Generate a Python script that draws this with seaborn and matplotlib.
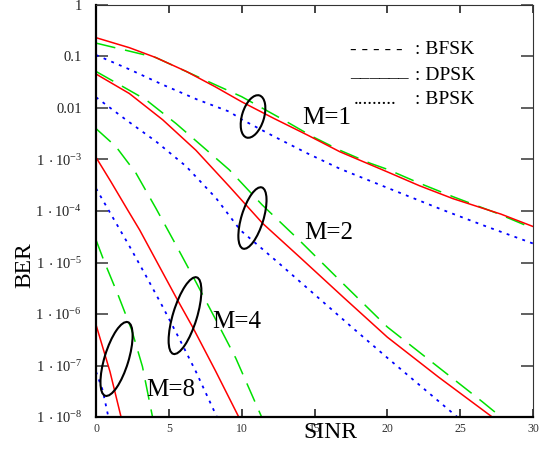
import matplotlib
matplotlib.use("Agg")
import matplotlib.pyplot as plt
import matplotlib.transforms as mtransforms
from matplotlib.patches import Ellipse
import pandas as pd
import seaborn as sns

sns.set_theme(style="white")
plt.rcParams["font.family"] = ["Liberation Serif", "DejaVu Serif"]
plt.rcParams["mathtext.fontset"] = "custom"
plt.rcParams["mathtext.rm"] = "Liberation Serif"
plt.rcParams["mathtext.it"] = "Liberation Serif:italic"
plt.rcParams["mathtext.bf"] = "Liberation Serif:bold"

# ---- BER curves (SINR in dB) ----
dpsk_m1_x = [0, 2.3, 4.1, 6.2, 8.2, 10, 12.2, 14.5, 16.75, 20, 22.2, 24.5, 27.8, 30]
dpsk_m1_ber = [0.232, 0.148, 0.0955, 0.0513, 0.0257, 0.0132, 6.3e-3, 3.0e-3, 1.41e-3,
               5.75e-4, 3.1e-4, 1.74e-4, 8.7e-5, 5.0e-5]
bfsk_m1_x = [0, 2.5, 4.1, 5.95, 8.2, 10, 12.86, 14.9, 16.75, 18.8, 20, 22.2, 24.5, 27.5, 30]
bfsk_m1_ber = [0.182, 0.123, 0.0955, 0.055, 0.0282, 0.0166, 5.9e-3, 2.75e-3, 1.51e-3,
               8.5e-4, 6.45e-4, 3.47e-4, 1.9e-4, 9.1e-5, 4.6e-5]
bpsk_m1_x = [0, 2.3, 4.6, 6.9, 9.15, 10, 12.2, 14.5, 16.75, 20, 23.8, 26.8, 30]
bpsk_m1_ber = [0.107, 0.0562, 0.0282, 0.0148, 8.5e-3, 6.0e-3, 2.82e-3, 1.32e-3, 6.6e-4,
               2.82e-4, 1.05e-4, 5.0e-5, 2.34e-5]

dpsk_m2_x = [0, 2.29, 4.58, 6.86, 9.15, 11.44, 14, 17, 20, 23.5, 27.2]
dpsk_m2_ber = [0.0457, 0.0191, 5.9e-3, 1.51e-3, 3.0e-4, 5.75e-5, 1.26e-5, 2.09e-6,
               3.55e-7, 6.0e-8, 1.0e-8]
bfsk_m2_x = [0, 2.06, 3.43, 5.49, 7.32, 9.15, 11.4, 14, 17, 20, 23.5, 26.5, 27.8]
bfsk_m2_ber = [0.0513, 0.024, 0.01445, 5.0e-3, 1.78e-3, 6.3e-4, 1.32e-4, 2.63e-5,
               3.8e-6, 5.6e-7, 9.3e-8, 2.0e-8, 1.0e-8]
bpsk_m2_x = [0, 2.06, 4.12, 6.18, 8.24, 9.9, 12.5, 15, 17.5, 20, 22.5, 24.8]
bpsk_m2_ber = [0.0162, 5.9e-3, 2.24e-3, 7.4e-4, 1.78e-4, 4.27e-5, 1.0e-5, 2.4e-6,
               5.75e-7, 1.41e-7, 3.55e-8, 1.0e-8]

dpsk_m4_x = [0, 1.0, 2.17, 3.0, 4.3, 5.6, 6.63, 8.2, 9.8]
dpsk_m4_ber = [1.1e-3, 3.8e-4, 1.05e-4, 4.27e-5, 8.9e-6, 1.86e-6, 5.6e-7, 7.9e-8, 1.0e-8]
bfsk_m4_x = [0, 1.37, 2.75, 4.12, 5.49, 6.86, 8.24, 9.6, 11.37]
bfsk_m4_ber = [3.98e-3, 1.78e-3, 5.4e-4, 1.12e-4, 2.19e-5, 4.17e-6, 7.6e-7, 1.38e-7, 1.0e-8]
bpsk_m4_x = [0, 1.14, 2.29, 3.43, 4.58, 5.72, 6.86, 8.3]
bpsk_m4_ber = [2.75e-4, 7.6e-5, 2.09e-5, 5.5e-6, 1.38e-6, 3.3e-7, 7.6e-8, 1.0e-8]

dpsk_m8_x = [0, 0.96, 1.72]
dpsk_m8_ber = [6.2e-7, 7.6e-8, 1.0e-8]
bfsk_m8_x = [0, 0.55, 1.53, 2.45, 3.19, 3.88]
bfsk_m8_ber = [2.75e-5, 1.07e-5, 2.29e-6, 4.9e-7, 9.5e-8, 1.0e-8]
bpsk_m8_x = [0, 0.46, 0.85]
bpsk_m8_ber = [7.6e-8, 3.3e-8, 1.0e-8]

y_tick_values = [1, 0.1, 0.01, 1e-3, 1e-4, 1e-5, 1e-6, 1e-7, 1e-8]
y_tick_labels = ["1", "0.1", "0.01"] + [
    r"$\mathregular{1\ \cdot 10^{-%d}}$" % k for k in range(3, 9)]
x_tick_values = [0, 5, 10, 15, 20, 25, 30]

curves = [
    ("BFSK", 1, bfsk_m1_x, bfsk_m1_ber), ("DPSK", 1, dpsk_m1_x, dpsk_m1_ber),
    ("BPSK", 1, bpsk_m1_x, bpsk_m1_ber),
    ("BFSK", 2, bfsk_m2_x, bfsk_m2_ber), ("DPSK", 2, dpsk_m2_x, dpsk_m2_ber),
    ("BPSK", 2, bpsk_m2_x, bpsk_m2_ber),
    ("BFSK", 4, bfsk_m4_x, bfsk_m4_ber), ("DPSK", 4, dpsk_m4_x, dpsk_m4_ber),
    ("BPSK", 4, bpsk_m4_x, bpsk_m4_ber),
    ("BFSK", 8, bfsk_m8_x, bfsk_m8_ber), ("DPSK", 8, dpsk_m8_x, dpsk_m8_ber),
    ("BPSK", 8, bpsk_m8_x, bpsk_m8_ber),
]
rows = []
for mod, m, xs, bers in curves:
    for x, b in zip(xs, bers):
        rows.append({"mod": mod, "M": m, "sinr": x, "ber": b})
df = pd.DataFrame(rows)

styles = {
    "BFSK": dict(color="#00e000", lw=1.1, ls=(0, (13, 6.5))),
    "DPSK": dict(color="#ff0000", lw=1.1, ls="-"),
    "BPSK": dict(color="#0000ff", lw=1.3, ls=(0, (1.6, 3.0))),
}

W, H = 539, 451
fig = plt.figure(figsize=(W / 100, H / 100), dpi=100)
L, R, T, B = 96, 533, 5, 417
ax = fig.add_axes([L / W, 1 - B / H, (R - L) / W, (B - T) / H])
ax.set_yscale("log")

for (mod, m), sub in df.groupby(["mod", "M"], sort=False):
    st = styles[mod]
    sns.lineplot(data=sub, x="sinr", y="ber", color=st["color"], linewidth=st["lw"],
                 estimator=None, sort=False, ax=ax, legend=False)
    ax.lines[-1].set_linestyle(st["ls"])

# diversity-order ellipses, sized in pixels around a data-space centre
def ring(xc, yc, a, b, tilt):
    tr = mtransforms.IdentityTransform() + mtransforms.ScaledTranslation(xc, yc, ax.transData)
    e = Ellipse((0, 0), width=2 * b, height=2 * a, angle=-tilt, transform=tr,
                fill=False, edgecolor="black", linewidth=1.5, clip_on=False, zorder=5)
    ax.add_artist(e)

ring(10.78, 6.84e-3, 22, 11, 17)
ring(10.74, 7.3e-5, 32, 11, 17)
ring(6.11, 9.3e-7, 40, 12, 17)
ring(1.41, 1.34e-7, 38.5, 12, 17)

ax.set_xlim(0, 30)
ax.set_ylim(1e-8, 1)
ax.set_xticks(x_tick_values)
ax.set_xticklabels([str(v) for v in x_tick_values], fontsize=8.5)
ax.set_yticks(y_tick_values)
ax.set_yticklabels(y_tick_labels, fontsize=10.5)
ax.minorticks_off()
ax.set_xlabel("")
ax.set_ylabel("")
ax.tick_params(axis="y", which="major", direction="in", left=True, right=True,
               length=8.5, width=1.2, color="#444444", pad=10, labelcolor="#222222")
ax.tick_params(axis="x", which="major", direction="in", bottom=True, top=True,
               length=6, width=1.2, color="#222222", pad=4, labelcolor="#333333")

for side in ("left", "bottom"):
    ax.spines[side].set_linewidth(1.6)
    ax.spines[side].set_color("black")
for side in ("top", "right"):
    ax.spines[side].set_linewidth(0.8)
    ax.spines[side].set_color("#333333")

def ptext(px, py, s, size, ha="center", va="center", **kw):
    fig.text(px / W, 1 - py / H, s, fontsize=size, ha=ha, va=va, color="black", **kw)

ptext(330, 432, "SINR", 17)
ptext(25, 265, "BER", 17, rotation=90)

ptext(350, 49, "- - - - -", 14, ha="left")
ptext(415, 49, ": BFSK", 14, ha="left")
ptext(350, 77, "______", 14, ha="left", va="baseline")
ptext(415, 76, ": DPSK", 14, ha="left")
ptext(354, 104, ".........", 14, ha="left", va="baseline")
ptext(415, 99, ": BPSK", 14, ha="left")

ptext(327, 118, "M=1", 18)
ptext(329, 233, "M=2", 18)
ptext(237, 322, "M=4", 18)
ptext(171, 390, "M=8", 18)

fig.savefig("out.png", dpi=100)
